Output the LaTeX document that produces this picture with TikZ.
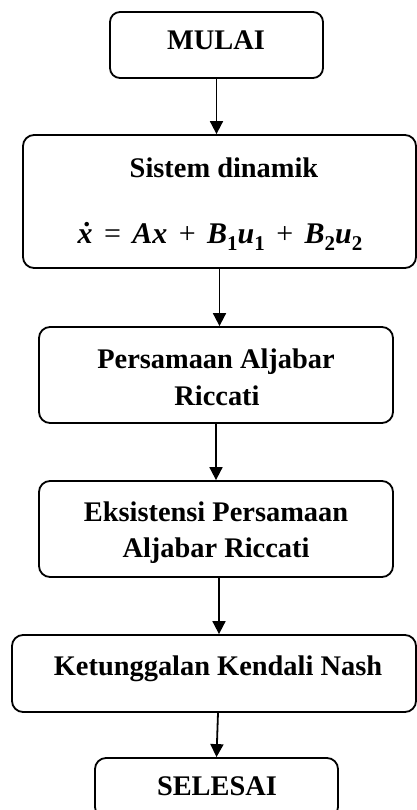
\documentclass[tikz,border=0pt]{standalone}
\usepackage{fontspec}
\setmainfont{Liberation Serif}
\usetikzlibrary{arrows.meta}

% bold italic variable and upright bold subscript for the state equation
\newcommand{\mv}[1]{{\bfseries\itshape #1}}
\newcommand{\sbx}[1]{\raisebox{-0.25em}{\fontsize{21}{21}\selectfont\bfseries #1}}
\newcommand{\opgap}{\hspace{0.38em}}

\tikzset{
  stepbox/.style={draw, line width=1.8pt, rounded corners=11pt, inner sep=0pt},
  lbl/.style={anchor=base, inner sep=0pt, font=\fontsize{28.4}{33}\selectfont\bfseries},
  arr/.style={line width=1.8pt, -{Triangle[length=13pt,width=13pt]}},
}

\begin{document}
\begin{tikzpicture}[x=1pt, y=-1pt]
  \clip (0,0) rectangle (417,810);

  % boxes
  \node[stepbox, minimum width=213pt, minimum height=66pt, rounded corners=10pt] (mulai) at (216.5,45) {};
  \node[stepbox, minimum width=393pt, minimum height=133pt] (sis) at (219.5,201.5) {};
  \node[stepbox, minimum width=354pt, minimum height=96pt] (per) at (216,375) {};
  \node[stepbox, minimum width=354pt, minimum height=96pt] (eks) at (216,529) {};
  \node[stepbox, minimum width=404pt, minimum height=77pt] (ket) at (214,673.5) {};
  \node[stepbox, minimum width=243pt, minimum height=60pt] (sel) at (216.5,788) {};

  % labels
  \node[lbl] (tmulai) at (216,50) {MULAI};
  \node[lbl] (tsis) at (224,178) {Sistem dinamik};
  \node[lbl, font=\fontsize{30}{32}\selectfont] (teq) at (220,243)
    {\mv{ẋ}\opgap=\opgap\mv{Ax}\opgap+\opgap\mv{B}\sbx{1}\mv{u}\sbx{1}\opgap+\opgap\mv{B}\sbx{2}\mv{u}\sbx{2}};
  \node[lbl] (tper1) at (216,368) {Persamaan Aljabar};
  \node[lbl] (tper2) at (217,405) {Riccati};
  \node[lbl] (teks1) at (216,521) {Eksistensi Persamaan};
  \node[lbl] (teks2) at (216,557) {Aljabar Riccati};
  \node[lbl] (tket) at (218,675) {Ketunggalan Kendali Nash};
  \node[lbl] (tsel) at (217,795) {SELESAI};

  % connectors
  \draw[arr] (mulai.south) -- (mulai.south |- sis.north);
  \draw[arr] (sis.south) -- (sis.south |- per.north);
  \draw[arr] (per.south) -- (eks.north);
  \draw[arr] ([xshift=3pt]eks.south) -- ([xshift=3pt]eks.south |- ket.north);
  \draw[arr] ([xshift=4pt]ket.south) -- (sel.north);
\end{tikzpicture}
\end{document}
